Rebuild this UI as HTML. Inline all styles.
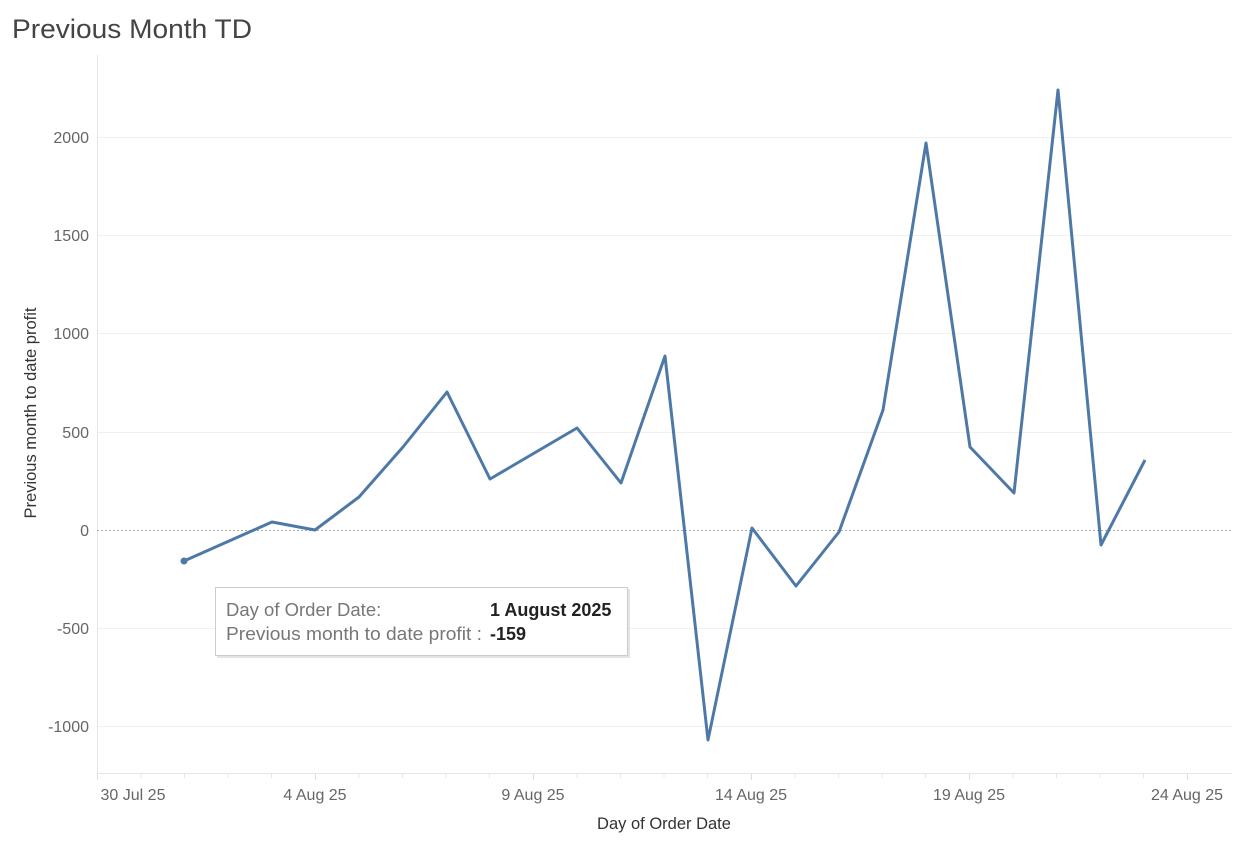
<!DOCTYPE html>
<html><head><meta charset="utf-8"><style>
body{margin:0;background:#fff;width:1236px;height:842px;overflow:hidden;font-family:"Liberation Sans",sans-serif}
</style></head><body>
<svg width="1236" height="842" xmlns="http://www.w3.org/2000/svg" font-family="Liberation Sans, sans-serif">
<text x="12" y="38" font-size="27" fill="#444" textLength="240" lengthAdjust="spacingAndGlyphs">Previous Month TD</text>
<g stroke="#f0f0f0" stroke-width="1">
<line x1="97" y1="137.5" x2="1232" y2="137.5"/>
<line x1="97" y1="235.5" x2="1232" y2="235.5"/>
<line x1="97" y1="333.5" x2="1232" y2="333.5"/>
<line x1="97" y1="432.5" x2="1232" y2="432.5"/>
<line x1="97" y1="628.5" x2="1232" y2="628.5"/>
<line x1="97" y1="726.5" x2="1232" y2="726.5"/>
</g>
<line x1="97.5" y1="55" x2="97.5" y2="774" stroke="#e6e6e6"/>
<line x1="97" y1="773.5" x2="1232" y2="773.5" stroke="#e6e6e6"/>
<line x1="97" y1="530.5" x2="1232" y2="530.5" stroke="#aaa" stroke-dasharray="2,2"/>
<g stroke="#e8e8e8">
<line x1="141" y1="774" x2="141" y2="778"/><line x1="184.5" y1="774" x2="184.5" y2="778"/><line x1="228" y1="774" x2="228" y2="778"/><line x1="271.5" y1="774" x2="271.5" y2="778"/>
<line x1="359" y1="774" x2="359" y2="778"/><line x1="402.5" y1="774" x2="402.5" y2="778"/><line x1="446" y1="774" x2="446" y2="778"/><line x1="489.5" y1="774" x2="489.5" y2="778"/>
<line x1="577" y1="774" x2="577" y2="778"/><line x1="620.5" y1="774" x2="620.5" y2="778"/><line x1="664" y1="774" x2="664" y2="778"/><line x1="707.5" y1="774" x2="707.5" y2="778"/>
<line x1="795" y1="774" x2="795" y2="778"/><line x1="838.5" y1="774" x2="838.5" y2="778"/><line x1="882" y1="774" x2="882" y2="778"/><line x1="925.5" y1="774" x2="925.5" y2="778"/>
<line x1="1013" y1="774" x2="1013" y2="778"/><line x1="1056.5" y1="774" x2="1056.5" y2="778"/><line x1="1100" y1="774" x2="1100" y2="778"/><line x1="1143.5" y1="774" x2="1143.5" y2="778"/>
</g>
<g stroke="#ddd">
<line x1="97.5" y1="774" x2="97.5" y2="780"/>
<line x1="315.5" y1="774" x2="315.5" y2="780"/>
<line x1="533.5" y1="774" x2="533.5" y2="780"/>
<line x1="751.5" y1="774" x2="751.5" y2="780"/>
<line x1="969.5" y1="774" x2="969.5" y2="780"/>
<line x1="1187.5" y1="774" x2="1187.5" y2="780"/>
</g>
<g font-size="16" fill="#666" text-anchor="end">
<text x="89" y="143">2000</text>
<text x="89" y="241">1500</text>
<text x="89" y="339">1000</text>
<text x="89" y="438">500</text>
<text x="89" y="536">0</text>
<text x="89" y="634">-500</text>
<text x="89" y="732">-1000</text>
</g>
<g font-size="16" fill="#666" text-anchor="middle">
<text x="133" y="800">30 Jul 25</text>
<text x="315" y="800">4 Aug 25</text>
<text x="533" y="800">9 Aug 25</text>
<text x="751" y="800">14 Aug 25</text>
<text x="969" y="800">19 Aug 25</text>
<text x="1187" y="800">24 Aug 25</text>
</g>
<text x="664" y="829" font-size="16.5" fill="#333" text-anchor="middle">Day of Order Date</text>
<text transform="translate(36,413) rotate(-90)" font-size="16.5" fill="#333" text-anchor="middle">Previous month to date profit</text>
<polyline fill="none" stroke="#4e79a7" stroke-width="3" stroke-linejoin="round" points="184,561 272,522 315,530 359,497 403,447 447,392 490,479 577,428 621,483 665,356 708,740 752,528 796,586 839,532 883,410 926,143 970,447 1014,493 1058,90 1101,545 1145,460"/>
<circle cx="184" cy="561" r="3.5" fill="#4e79a7"/>
<rect x="217" y="589" width="413" height="69" fill="#d8d8d8" opacity="0.7"/>
<rect x="215.5" y="587.5" width="412" height="68" fill="#fff" stroke="#ccc"/>
<text x="226" y="616" font-size="18.5" fill="#777">Day of Order Date:</text>
<text x="490" y="616" font-size="18" fill="#222" font-weight="bold">1 August 2025</text>
<text x="226" y="640" font-size="18.5" fill="#777" textLength="256" lengthAdjust="spacingAndGlyphs">Previous month to date profit :</text>
<text x="490" y="640" font-size="18" fill="#222" font-weight="bold">-159</text>
</svg>
</body></html>
